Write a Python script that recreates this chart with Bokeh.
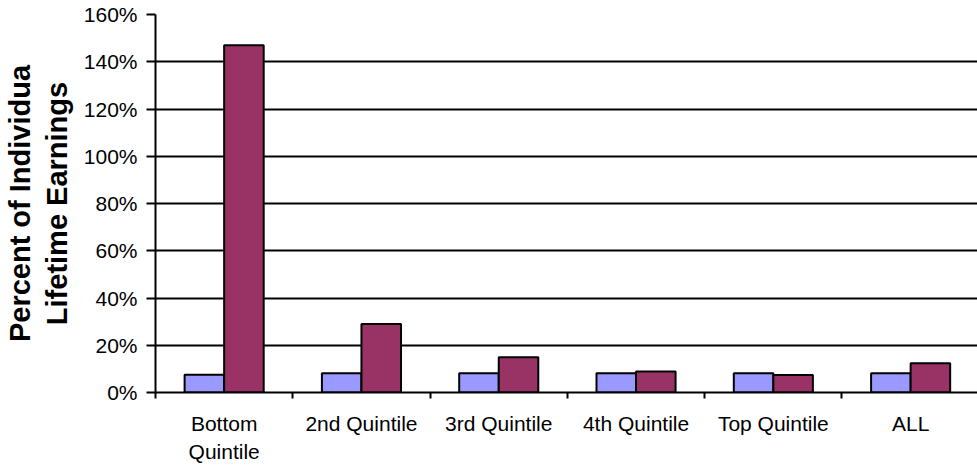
from bokeh.plotting import figure
from bokeh.models import ColumnDataSource, Range1d, FixedTicker, NumeralTickFormatter
from bokeh.embed import file_html
from bokeh.resources import INLINE

# Chart data
categories = ["Bottom\nQuintile", "2nd Quintile", "3rd Quintile",
              "4th Quintile", "Top Quintile", "ALL"]
series_blue = [0.075, 0.081, 0.081, 0.081, 0.081, 0.081]
series_red = [1.47, 0.29, 0.149, 0.089, 0.074, 0.124]
y_ticks = [0.0, 0.2, 0.4, 0.6, 0.8, 1.0, 1.2, 1.4, 1.6]

FONT = "Liberation Sans"
BAR_W = 0.288

centers = [i + 0.5 for i in range(len(categories))]
src = ColumnDataSource(dict(
    xb=[c - BAR_W / 2 for c in centers],
    xr=[c + BAR_W / 2 for c in centers],
    blue=series_blue,
    red=series_red,
))

p = figure(width=977, height=466, output_backend="svg", toolbar_location=None,
           x_range=Range1d(0, 5.987), y_range=Range1d(0, 1.6),
           min_border_left=155, min_border_right=0,
           min_border_top=14, min_border_bottom=74)
p.outline_line_color = None
p.background_fill_color = "white"
p.border_fill_color = "white"

p.vbar(x="xb", top="blue", width=BAR_W, bottom=0, source=src,
       fill_color="#9999FF", line_color="black", line_width=2)
p.vbar(x="xr", top="red", width=BAR_W, bottom=0, source=src,
       fill_color="#993366", line_color="black", line_width=2)

# Category axis: labels at centers, tick marks between categories
xa = p.xaxis[0]
xa.ticker = FixedTicker(ticks=centers,
                        minor_ticks=list(range(len(categories) + 1)))
xa.major_label_overrides = {c: lab for c, lab in zip(centers, categories)}
xa.major_tick_out = 0
xa.major_tick_in = 0
xa.minor_tick_out = 6
xa.minor_tick_in = 0
xa.minor_tick_line_color = "black"
xa.minor_tick_line_width = 2
xa.axis_line_color = "black"
xa.axis_line_width = 2
xa.major_label_standoff = 13
xa.major_label_text_font = FONT
xa.major_label_text_font_size = "21px"
xa.major_label_text_color = "black"
xa.major_label_text_line_height = 1.22

# Value axis
ya = p.yaxis[0]
ya.ticker = FixedTicker(ticks=y_ticks, minor_ticks=[])
ya.formatter = NumeralTickFormatter(format="0%")
ya.major_tick_out = 9
ya.major_tick_in = 0
ya.major_tick_line_color = "black"
ya.major_tick_line_width = 2
ya.axis_line_color = "black"
ya.axis_line_width = 2
ya.major_label_standoff = 9
ya.major_label_text_font = FONT
ya.major_label_text_font_size = "21px"
ya.major_label_text_color = "black"
ya.axis_label = "Percent of Individua\nLifetime Earnings"
ya.axis_label_text_font = FONT
ya.axis_label_text_font_size = "29px"
ya.axis_label_text_font_style = "bold"
ya.axis_label_text_color = "black"
ya.axis_label_text_line_height = 1.16
ya.axis_label_standoff = 8

p.xgrid.grid_line_color = None
p.ygrid.ticker = FixedTicker(ticks=y_ticks)
p.ygrid.grid_line_color = "black"
p.ygrid.grid_line_width = 2

open("out.html", "w").write(file_html(p, INLINE))
